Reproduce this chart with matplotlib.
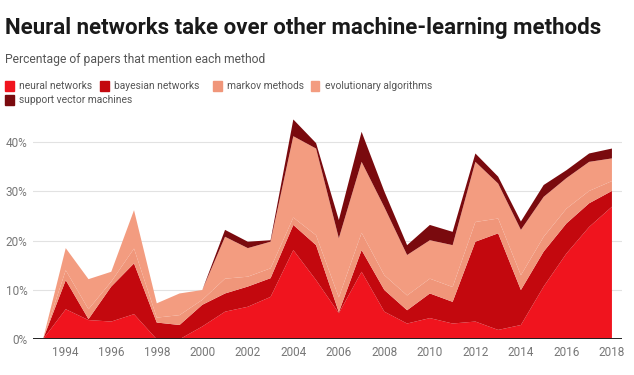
import matplotlib
matplotlib.use("Agg")
import matplotlib.pyplot as plt
from matplotlib.patches import Rectangle

years = list(range(1993, 2019))

# percentages, one list per method (stacked bottom to top)
neural = [0, 6.1, 3.9, 3.6, 5.1, 0, 0, 2.6, 5.6, 6.6, 8.6, 18.1, 12.0, 5.3,
          13.7, 5.6, 3.2, 4.3, 3.2, 3.6, 1.9, 2.9, 10.7, 17.4, 22.8, 26.9]
bayesian = [0, 5.9, 0.2, 7.1, 10.3, 3.4, 2.9, 4.4, 3.7, 4.1, 3.8, 5.1, 7.1, 0.2,
            4.4, 4.4, 2.7, 5.0, 4.4, 16.2, 19.6, 7.1, 7.1, 6.1, 4.8, 3.2]
markov = [0, 2, 2, 1, 3, 1, 2, 1, 3, 2, 2, 1.5, 2, 3,
          3.5, 3, 3, 3, 3, 4, 3, 3, 3, 3, 2.5, 2]
evolutionary = [0, 4.5, 6.1, 2.0, 7.8, 2.9, 4.4, 2.0, 8.5, 5.8, 5.4, 16.5, 17.6, 12.0,
                14.4, 13.8, 8.2, 7.8, 8.5, 12.2, 7.1, 9.2, 8.1, 6.2, 5.9, 4.6]
svm = [0, 0, 0, 0, 0, 0, 0, 0, 1.4, 1.3, 0.3, 3.4, 1.1, 3.7,
       6.1, 3.2, 2.0, 3.1, 2.7, 1.7, 1.4, 1.7, 2.4, 1.6, 1.7, 2.0]

labels = ["neural networks", "bayesian networks", "markov methods",
          "evolutionary algorithms", "support vector machines"]
colors = ["#F0141E", "#C3080E", "#F0967A", "#F39C80", "#7A0A0E"]
tick_years = list(range(1994, 2019, 2))
y_ticks = [0, 10, 20, 30, 40]

plt.rcParams["font.family"] = ["Roboto", "DejaVu Sans"]

fig = plt.figure(figsize=(6.34, 3.75), dpi=100)
ax = fig.add_axes([0.052, 0.0952, 0.929, 0.5915])

ax.stackplot(years, neural, bayesian, markov, evolutionary, svm,
             colors=colors, linewidth=0)

ax.set_xlim(1992.56, 2018.44)
ax.set_ylim(0, 45)
ax.set_yticks(y_ticks)
ax.set_yticklabels([f"{t}%" for t in y_ticks])
ax.set_xticks(tick_years)
ax.set_xticklabels([str(y) for y in tick_years])
ax.tick_params(length=0, colors="#777777", labelsize=8.5)
ax.tick_params(axis="x", pad=5)
ax.tick_params(axis="y", pad=4)

ax.grid(axis="y", color="#e2e2e2", linewidth=0.8)
ax.set_axisbelow(True)
for s in ["top", "right", "left", "bottom"]:
    ax.spines[s].set_visible(False)
ax.axhline(0, color="#222222", linewidth=1.4, zorder=5)

# title, subtitle
fig.text(0.008, 0.926, "Neural networks take over other machine-learning methods",
         fontsize=16, fontweight="bold", color="#1a1a1a", va="center")
fig.text(0.008, 0.84, "Percentage of papers that mention each method",
         fontsize=8.7, color="#555555", va="center")

# legend drawn by hand
leg_pos = [(0.008, 0.771), (0.158, 0.771), (0.336, 0.771), (0.49, 0.771), (0.008, 0.733)]
for (lx, ly), lab, col in zip(leg_pos, labels, colors):
    fig.patches.append(Rectangle((lx, ly - 0.014), 0.0135, 0.028,
                                 transform=fig.transFigure, color=col))
    fig.text(lx + 0.022, ly, lab, fontsize=7.4, color="#555555", va="center")

fig.savefig("out.png", dpi=100)
